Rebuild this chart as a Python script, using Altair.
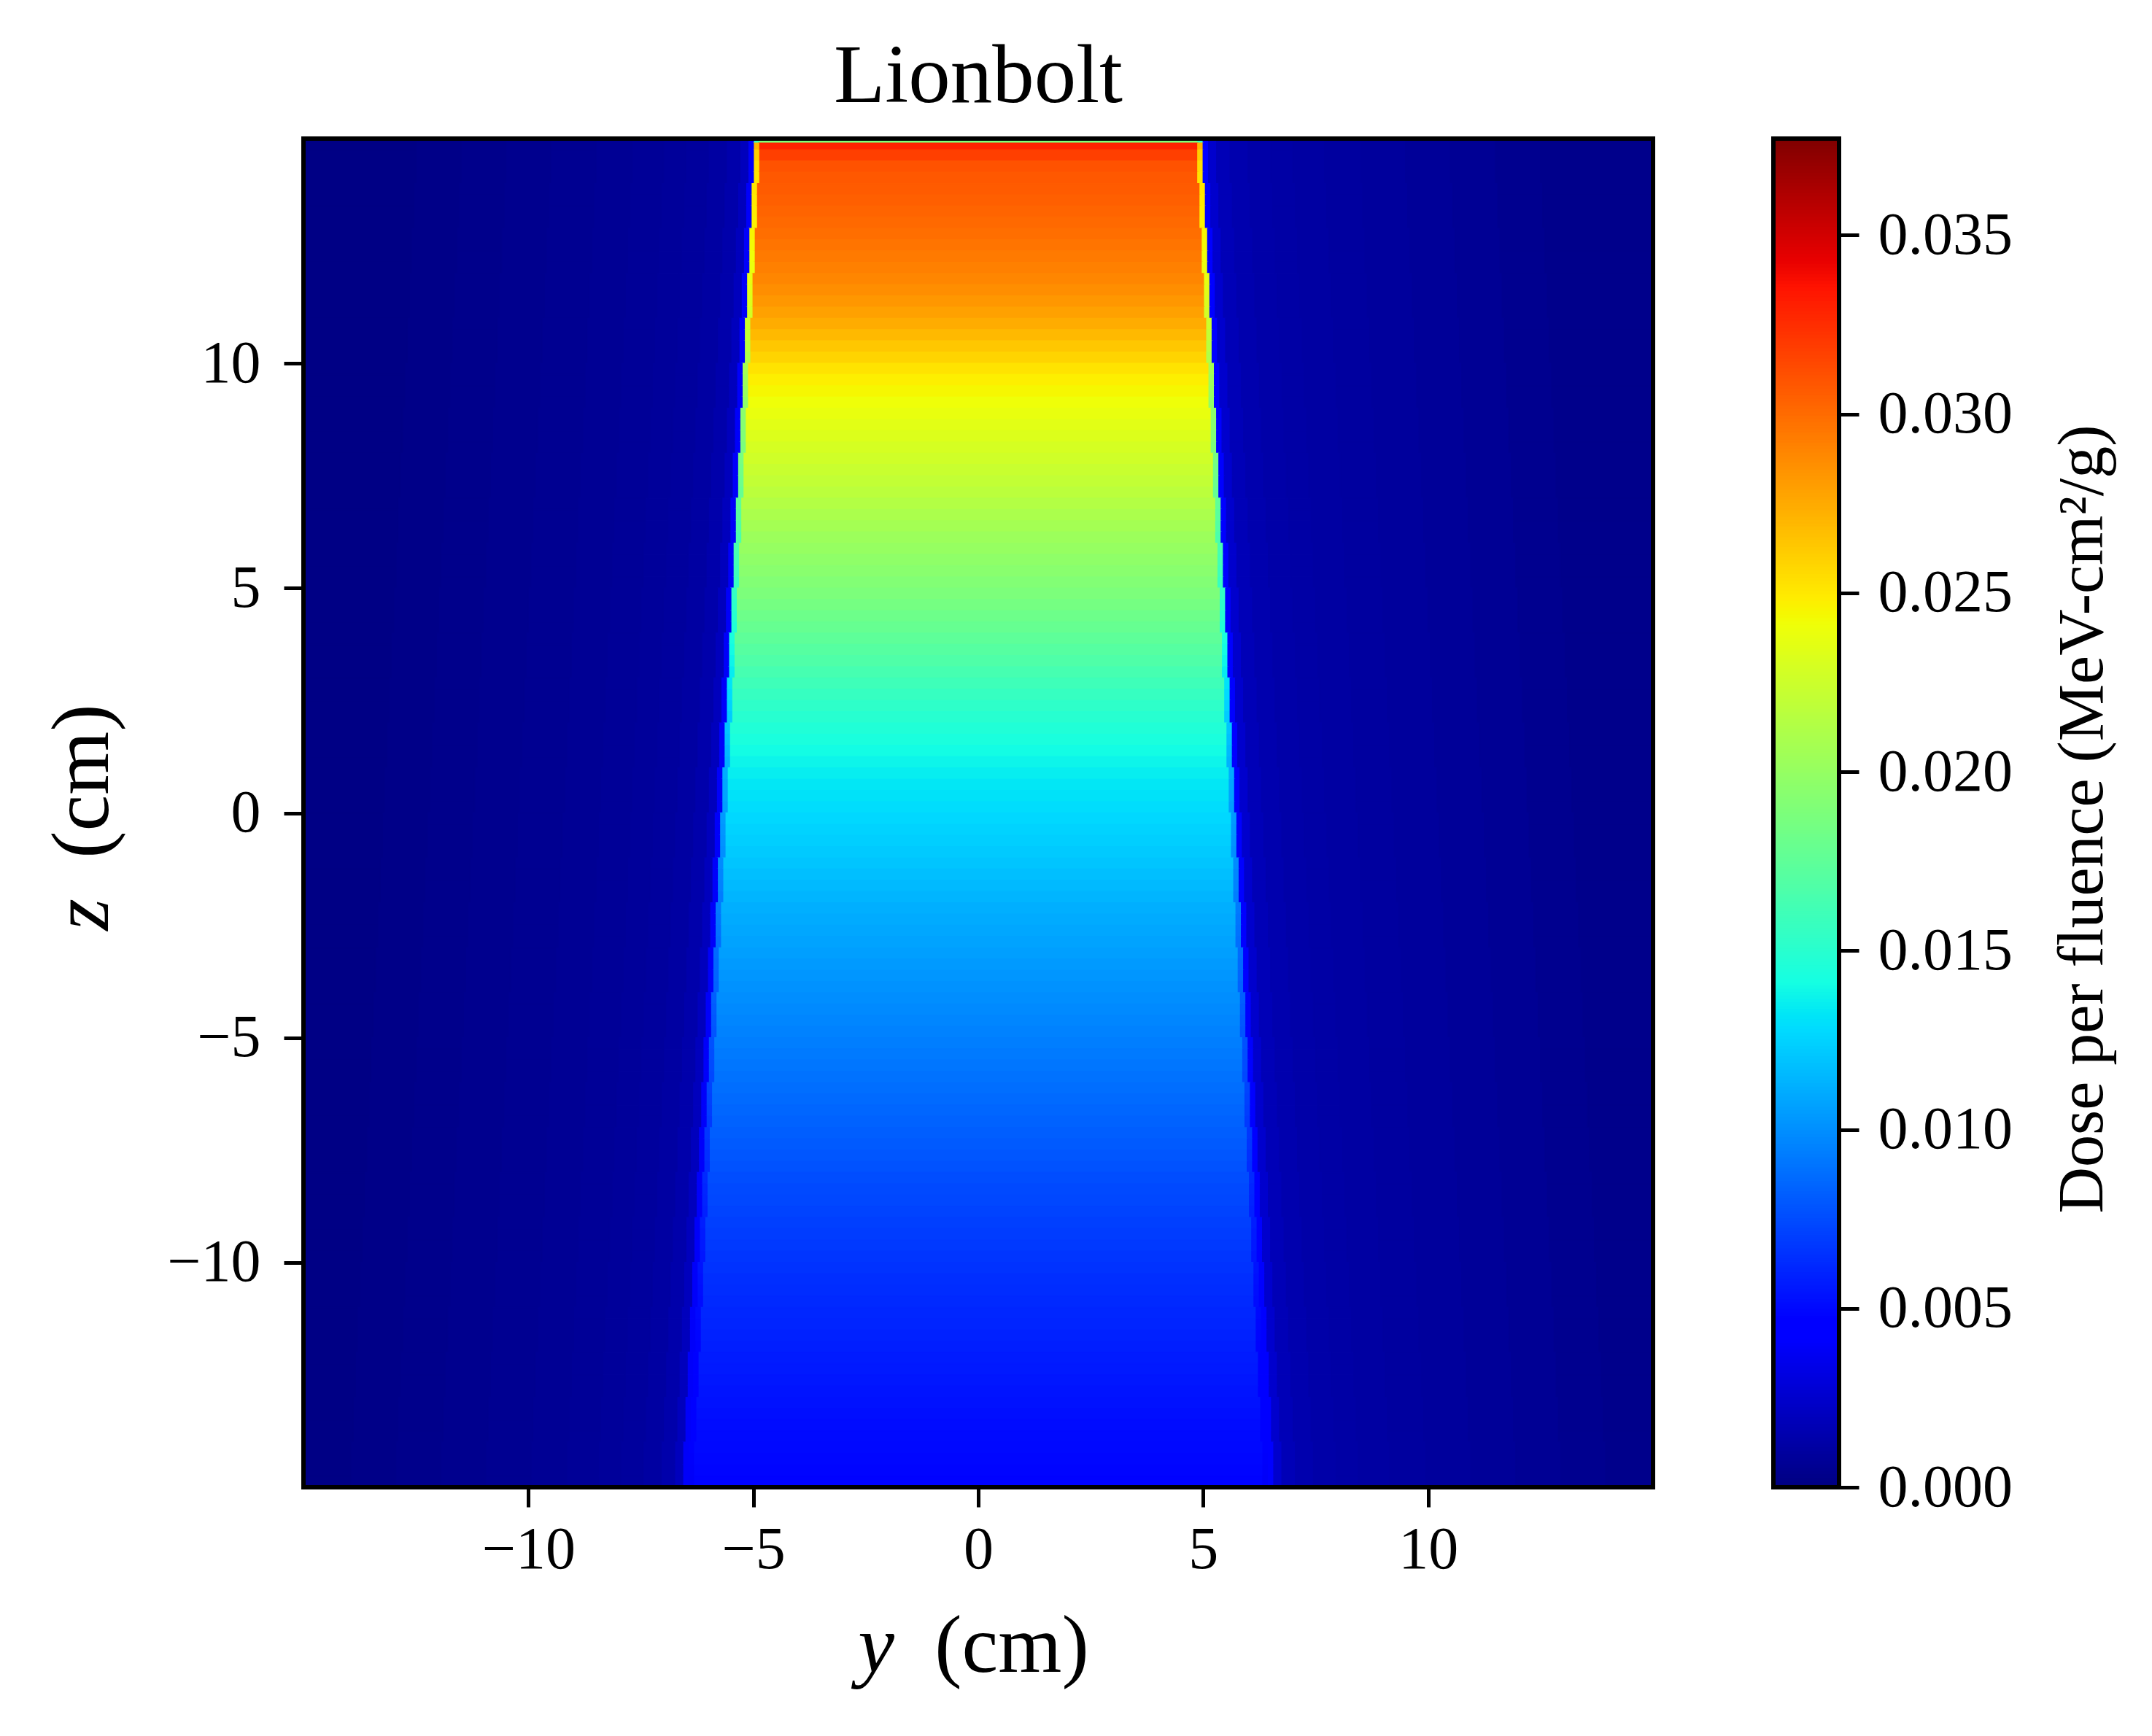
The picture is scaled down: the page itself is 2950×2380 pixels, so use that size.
import altair as alt
import numpy as np
import pandas as pd

# ---------------- text ----------------
TITLE = "Lionbolt"
X_VAR, Z_VAR, UNIT = "y", "z", "(cm)"
CBAR_LABEL = "Dose per fluence (MeV-cm²/g)"

# ---------------- axes ----------------
Y_RANGE = [-15.0, 15.0]
Z_RANGE = [-15.0, 15.0]
AXIS_TICKS = [-10, -5, 0, 5, 10]
CBAR_TICKS = [0.000, 0.005, 0.010, 0.015, 0.020, 0.025, 0.030, 0.035]
DOSE_MAX = 0.0377

# ---------------- data ----------------
# row boundaries (cm), top to bottom: three thin surface rows, then 0.25 cm rows
z_edges = [15.0, 14.9, 14.75, 14.5] + [round(v, 3) for v in np.arange(14.25, -15.01, -0.25)]

# dose inside the beam for each row (MeV-cm^2/g)
surface_dose = [0.0190, 0.0330, 0.0318]
beam_dose = [
    0.03105, 0.03080, 0.03068, 0.03050, 0.03030, 0.03010, 0.02990, 0.02968,
    0.02943, 0.02918, 0.02895, 0.02863, 0.02828, 0.02788, 0.02743, 0.02693,
    0.02638, 0.02583, 0.02523, 0.02478, 0.02448, 0.02413, 0.02385, 0.02355,
    0.02325, 0.02295, 0.02265, 0.02235, 0.02205, 0.02173, 0.02138, 0.02103,
    0.02068, 0.02033, 0.02005, 0.01975, 0.01945, 0.01915, 0.01885, 0.01853,
    0.01818, 0.01783, 0.01748, 0.01713, 0.01678, 0.01640, 0.01600, 0.01563,
    0.01528, 0.01495, 0.01465, 0.01435, 0.01405, 0.01378, 0.01353, 0.01328,
    0.01310, 0.01290, 0.01270, 0.01253, 0.01238, 0.01220, 0.01200, 0.01180,
    0.01160, 0.01140, 0.01120, 0.01103, 0.01088, 0.01073, 0.01058, 0.01043,
    0.01028, 0.01013, 0.00998, 0.00983, 0.00968, 0.00953, 0.00938, 0.00923,
    0.00908, 0.00893, 0.00878, 0.00863, 0.00848, 0.00833, 0.00818, 0.00803,
    0.00788, 0.00773, 0.00758, 0.00743, 0.00733, 0.00720, 0.00705, 0.00693,
    0.00683, 0.00668, 0.00655, 0.00643, 0.00633, 0.00623, 0.00613, 0.00603,
    0.00593, 0.00583, 0.00573, 0.00563, 0.00553, 0.00543, 0.00533, 0.00523,
    0.00513, 0.00505, 0.00500, 0.00493, 0.00485, 0.00478,
]

# beam half-width (cm): surface rows, then one value per 0.5 cm of depth
surface_half_width = [5.0, 5.0, 5.0]
beam_half_width = [
    5.00, 5.05, 5.05, 5.10, 5.10, 5.15, 5.15, 5.20, 5.20, 5.25,
    5.25, 5.30, 5.30, 5.35, 5.35, 5.40, 5.40, 5.45, 5.45, 5.50,
    5.50, 5.55, 5.55, 5.60, 5.60, 5.65, 5.65, 5.70, 5.70, 5.75,
    5.75, 5.80, 5.80, 5.85, 5.85, 5.90, 5.90, 5.95, 5.95, 6.00,
    6.00, 6.05, 6.05, 6.10, 6.10, 6.15, 6.15, 6.20, 6.20, 6.25,
    6.25, 6.30, 6.30, 6.35, 6.35, 6.40, 6.40, 6.45, 6.45,
]

# penumbra voxel just inside the beam edge
edge_width = 0.12
edge_ratio = 0.82

# dose outside the beam, by distance from the beam edge (cm)
bg_offsets = [0.0, 0.12, 0.3, 0.6, 1.0, 1.5, 2.0, 2.7, 3.5, 4.5, 5.5, 6.5, 7.5]
bg_left = [0.0040, 0.0020, 0.0014, 0.0011, 0.00095, 0.00085, 0.00075,
           0.00065, 0.00055, 0.00045, 0.00035, 0.00025, 0.00015]
bg_right = [0.0045, 0.0025, 0.0018, 0.0015, 0.00130, 0.00120, 0.00110,
            0.00100, 0.00090, 0.00080, 0.00065, 0.00050, 0.00035]

# ---------------- build the rectangles ----------------
row_dose = surface_dose + beam_dose
row_hw = surface_half_width + [beam_half_width[j // 2] for j in range(len(beam_dose))]

rows = []
for i in range(len(row_dose)):
    zt, zb = z_edges[i], z_edges[i + 1]
    d, hw = row_dose[i], row_hw[i]
    rows.append(dict(y0=-hw + edge_width, y1=hw - edge_width, z0=zb, z1=zt, dose=d))
    rows.append(dict(y0=-hw, y1=-hw + edge_width, z0=zb, z1=zt, dose=d * edge_ratio))
    rows.append(dict(y0=hw - edge_width, y1=hw, z0=zb, z1=zt, dose=d * edge_ratio))
    for k in range(len(bg_offsets)):
        inner = hw + bg_offsets[k]
        outer = hw + bg_offsets[k + 1] if k + 1 < len(bg_offsets) else Y_RANGE[1]
        outer = min(outer, Y_RANGE[1])
        if outer <= inner:
            continue
        rows.append(dict(y0=-outer, y1=-inner, z0=zb, z1=zt, dose=bg_left[k]))
        rows.append(dict(y0=inner, y1=outer, z0=zb, z1=zt, dose=bg_right[k]))
df = pd.DataFrame(rows)

# colour bar ramp
ramp_edges = np.linspace(0.0, DOSE_MAX, 401)
ramp = pd.DataFrame({"v0": ramp_edges[:-1], "v1": ramp_edges[1:]})
ramp["dose"] = (ramp["v0"] + ramp["v1"]) / 2

# ---------------- jet colormap ----------------
stops = [0, 0.11, 0.125, 0.34, 0.35, 0.375, 0.64, 0.65, 0.66, 0.89, 0.91, 1.0]


def jet_hex(f):
    r = np.interp(f, [0, .35, .66, .89, 1], [0, 0, 1, 1, .5])
    g = np.interp(f, [0, .125, .375, .64, .91, 1], [0, 0, 1, 1, 0, 0])
    b = np.interp(f, [0, .11, .34, .65, 1], [.5, 1, 1, 0, 0])
    return "#%02x%02x%02x" % (int(round(r * 255)), int(round(g * 255)), int(round(b * 255)))


jet_scale = alt.Scale(domain=[s * DOSE_MAX for s in stops],
                      range=[jet_hex(s) for s in stops],
                      interpolate="rgb", clamp=True)

FONT = "Liberation Serif"
W, H = 1850, 1849
CB_W = 90
TICK_FONT = 82
LABEL_FONT = 112

heat = alt.Chart(df).mark_rect(strokeWidth=1.5).encode(
    x=alt.X("y0:Q", scale=alt.Scale(domain=Y_RANGE, nice=False, zero=False),
            axis=alt.Axis(values=AXIS_TICKS, title=None, labelPadding=18)),
    x2="y1:Q",
    y=alt.Y("z0:Q", scale=alt.Scale(domain=Z_RANGE, nice=False, zero=False),
            axis=alt.Axis(values=AXIS_TICKS, title=None, labelPadding=32)),
    y2="z1:Q",
    color=alt.Color("dose:Q", scale=jet_scale, legend=None),
    stroke=alt.Stroke("dose:Q", scale=jet_scale, legend=None),
)

one = pd.DataFrame({"a": [0]})

frame = alt.Chart(one).mark_rect(
    filled=False, stroke="black", strokeWidth=6
).encode(x=alt.value(0), x2=alt.value(W), y=alt.value(0), y2=alt.value(H))


def label(text, x, y, size, angle=0, italic=False):
    kw = dict(text=text, font=FONT, fontSize=size, align="center",
              baseline="alphabetic", color="black")
    if angle:
        kw["angle"] = angle
    if italic:
        kw["fontStyle"] = "italic"
    return alt.Chart(one).mark_text(**kw).encode(x=alt.value(x), y=alt.value(y))


main = alt.layer(
    heat, frame,
    label(TITLE, 925, -50, 115),
    label(X_VAR, 785, 2102, LABEL_FONT, italic=True),
    label(UNIT, 971, 2102, LABEL_FONT),
    label(Z_VAR, -268, 1064, LABEL_FONT, angle=270, italic=True),
    label(UNIT, -268, 881, LABEL_FONT, angle=270),
).properties(width=W, height=H)

cbar_rects = alt.Chart(ramp).mark_rect(strokeWidth=1.5).encode(
    x=alt.value(0), x2=alt.value(CB_W),
    y=alt.Y("v0:Q", scale=alt.Scale(domain=[0, DOSE_MAX], nice=False, zero=False),
            axis=alt.Axis(orient="right", values=CBAR_TICKS, format=".3f",
                          title=None, labelPadding=26, labelLimit=0)),
    y2="v1:Q",
    color=alt.Color("dose:Q", scale=jet_scale, legend=None),
    stroke=alt.Stroke("dose:Q", scale=jet_scale, legend=None),
)
cbar_frame = alt.Chart(one).mark_rect(
    filled=False, stroke="black", strokeWidth=6
).encode(x=alt.value(0), x2=alt.value(CB_W), y=alt.value(0), y2=alt.value(H))

cbar = alt.layer(
    cbar_rects, cbar_frame,
    label(CBAR_LABEL, 451, 933, 88, angle=270),
).properties(width=CB_W, height=H)

chart = alt.hconcat(main, cbar, spacing=165, bounds="flush").resolve_scale(
    color="independent", stroke="independent"
).properties(
    padding={"left": 50, "top": 40, "right": 20, "bottom": 20}
).configure(
    font=FONT,
).configure_view(
    stroke=None
).configure_axis(
    grid=False, domain=False,
    tickColor="black", tickWidth=5, tickSize=27,
    labelFont=FONT, labelFontSize=TICK_FONT, labelColor="black", labelLimit=0,
)

chart.save("out.html", embed_options={"renderer": "svg", "actions": False})
